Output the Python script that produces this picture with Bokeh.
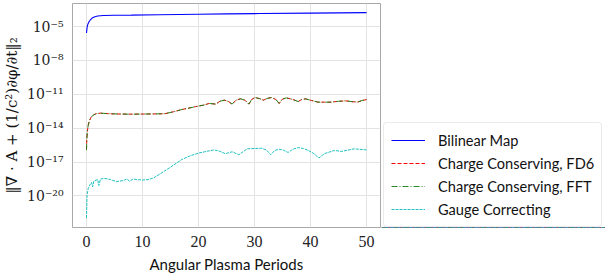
from bokeh.plotting import figure
from bokeh.layouts import row
from bokeh.models import (FixedTicker, CustomJSTickFormatter,
                          Legend, LegendItem, Range1d)
from bokeh.embed import file_html
from bokeh.resources import INLINE

# ---------------- data ----------------
bilinear_t = [0, 0.1, 0.2, 0.4, 0.7, 1.0, 1.5, 2.0, 3.0, 5.0, 8.0, 13, 20, 25, 31, 40, 45, 50]
bilinear_v = [2.69e-6, 7.94e-6, 1.41e-5, 2.40e-5, 3.98e-5, 5.62e-5, 7.41e-5, 8.51e-5,
              9.55e-5, 1.00e-4, 1.02e-4, 1.10e-4, 1.23e-4, 1.32e-4, 1.41e-4, 1.55e-4,
              1.62e-4, 1.70e-4]

cc_t = [0, 0.05, 0.15, 0.3, 0.5, 0.8, 1.2, 1.7, 2.5, 4, 6, 8, 10, 12, 14, 15.5, 17.2,
        18.5, 19.5, 21, 21.9, 23.1, 23.8, 24.6, 25.3, 26.0, 26.7, 27.5, 28.3, 29.0,
        29.5, 30.1, 30.9, 31.6, 32.3, 33.0, 33.8, 34.4, 35.0, 35.7, 36.8, 37.8, 38.4,
        39.1, 40.2, 41.3, 42.5, 43.7, 45.0, 46.3, 47.4, 48.4, 49.2, 50]
fd6_v = [1.23e-16, 1.0e-15, 5.0e-15, 1.74e-14, 4.47e-14, 8.91e-14, 1.45e-13, 1.91e-13,
         2.14e-13, 1.91e-13, 1.78e-13, 1.74e-13, 1.78e-13, 1.82e-13, 1.91e-13, 2.82e-13,
         4.68e-13, 6.31e-13, 8.13e-13, 1.12e-12, 1.55e-12, 1.35e-12, 2.40e-12, 3.02e-12,
         2.40e-12, 1.35e-12, 3.02e-12, 3.98e-12, 3.02e-12, 1.35e-12, 3.55e-12, 5.13e-12,
         4.17e-12, 3.02e-12, 4.37e-12, 5.13e-12, 3.55e-12, 1.55e-12, 3.80e-12, 4.79e-12,
         3.55e-12, 2.29e-12, 3.39e-12, 3.98e-12, 2.82e-12, 2.04e-12, 2.00e-12, 2.04e-12,
         2.40e-12, 2.63e-12, 2.24e-12, 2.04e-12, 2.82e-12, 3.39e-12]
fft_v = [1.23e-16, 1.0e-15, 5.0e-15, 1.74e-14, 4.47e-14, 8.91e-14, 1.45e-13, 1.91e-13,
         2.14e-13, 1.91e-13, 1.78e-13, 1.74e-13, 1.78e-13, 1.82e-13, 1.91e-13, 2.82e-13,
         4.68e-13, 6.31e-13, 8.13e-13, 1.12e-12, 1.55e-12, 1.35e-12, 2.40e-12, 3.02e-12,
         2.40e-12, 1.35e-12, 3.02e-12, 3.98e-12, 3.02e-12, 1.35e-12, 3.55e-12, 5.13e-12,
         4.17e-12, 3.02e-12, 4.37e-12, 5.13e-12, 3.55e-12, 1.55e-12, 3.80e-12, 4.79e-12,
         3.55e-12, 2.29e-12, 3.39e-12, 3.98e-12, 2.82e-12, 2.04e-12, 2.00e-12, 2.04e-12,
         2.40e-12, 2.63e-12, 2.24e-12, 2.04e-12, 2.82e-12, 3.39e-12]

gauge_t = [0, 0.05, 0.1, 0.3, 0.6, 0.9, 1.1, 1.3, 1.7, 2.0, 2.2, 2.5, 3.3, 4.3, 5.3, 6.5,
           7.2, 7.7, 8.3, 9.0, 10.0, 11, 12, 13.5, 15, 17, 18.5, 20, 21.5, 22.8, 23.8,
           24.8, 26.0, 27.2, 28.7, 30, 31.3, 32.1, 32.9, 33.6, 34.4, 35.2, 36.0, 36.9,
           37.8, 38.7, 39.6, 40.6, 41.5, 42.5, 44.3, 45.5, 47.8, 50]
gauge_v = [1.12e-22, 1.58e-21, 1.15e-20, 4.37e-20, 9.55e-20, 1.58e-19, 6.31e-20, 2.0e-19,
           2.51e-19, 2.82e-19, 8.32e-20, 3.16e-19, 3.55e-19, 2.82e-19, 1.86e-19, 2.24e-19,
           3.16e-19, 2.0e-19, 3.16e-19, 2.82e-19, 2.57e-19, 2.82e-19, 3.98e-19, 1.17e-18,
           3.55e-18, 1.66e-17, 3.55e-17, 6.17e-17, 8.91e-17, 1.20e-16, 8.91e-17, 5.50e-17,
           8.13e-17, 4.47e-17, 1.48e-16, 1.58e-16, 1.66e-16, 1.20e-16, 4.47e-17, 1.05e-16,
           1.38e-16, 1.12e-16, 7.08e-17, 1.41e-16, 1.91e-16, 1.58e-16, 1.07e-16, 5.62e-17,
           2.29e-17, 5.62e-17, 1.07e-16, 8.71e-17, 1.48e-16, 1.20e-16]

x_ticks = [0, 10, 20, 30, 40, 50]
y_ticks = [1e-20, 1e-17, 1e-14, 1e-11, 1e-8, 1e-5]
series_names = ["Bilinear Map", "Charge Conserving, FD6",
                "Charge Conserving, FFT", "Gauge Correcting"]
x_label = "Angular Plasma Periods"
y_label = "‖∇ · A + (1/c²)∂φ/∂t‖₂"

colors = ["#0000ff", "#ff0000", "#108010", "#20c0c0"]
dashes = ["solid", "4 2", "6 2 1 2", "3 1"]
widths = [1.1, 1.0, 0.9, 1.0]

H = 275

# ---------------- main figure ----------------
p = figure(width=381, height=H, y_axis_type="log", output_backend="svg",
           toolbar_location=None,
           x_range=Range1d(-2.5, 52.5), y_range=Range1d(1.6e-23, 1.1e-3),
           min_border_left=69, min_border_right=1, min_border_top=3,
           min_border_bottom=42)
p.background_fill_color = "white"
p.border_fill_color = "white"
p.outline_line_color = "#a8a8a8"
p.outline_line_width = 1

p.xaxis.ticker = FixedTicker(ticks=x_ticks)
p.yaxis.ticker = FixedTicker(ticks=y_ticks)
p.yaxis.formatter = CustomJSTickFormatter(code="""
const e = Math.round(Math.log10(tick));
const sup = {"-":"\u207b","0":"\u2070","1":"\u00b9","2":"\u00b2","3":"\u00b3",
             "4":"\u2074","5":"\u2075","6":"\u2076","7":"\u2077","8":"\u2078","9":"\u2079"};
return "10" + String(e).split("").map(c => sup[c]).join("");
""")

for ax in (p.xaxis, p.yaxis):
    ax.axis_line_color = None
    ax.major_tick_line_color = None
    ax.minor_tick_line_color = None
    ax.major_label_text_color = "#222222"
    ax.axis_label_text_font_style = "normal"
    ax.axis_label_text_color = "#111111"

p.xaxis.major_label_text_font = "Liberation Serif"
p.xaxis.major_label_text_font_size = "16px"
p.yaxis.major_label_text_font = "DejaVu Serif"
p.yaxis.major_label_text_font_size = "14px"
p.xaxis.major_label_standoff = 2
p.yaxis.major_label_standoff = 3
p.xaxis.axis_label = x_label
p.xaxis.axis_label_text_font = "Lato"
p.xaxis.axis_label_text_font_size = "15px"
p.xaxis.axis_label_standoff = 5
p.yaxis.axis_label = y_label
p.yaxis.axis_label_text_font = "DejaVu Serif"
p.yaxis.axis_label_text_font_size = "15px"
p.yaxis.axis_label_standoff = 3

p.xgrid.grid_line_color = "#e3e3e3"
p.ygrid.grid_line_color = "#e3e3e3"

series = [(bilinear_t, bilinear_v), (cc_t, fd6_v), (cc_t, fft_v), (gauge_t, gauge_v)]
for (t, v), c, d, w in zip(series, colors, dashes, widths):
    p.line(t, v, line_color=c, line_width=w, line_dash=d)

# ---------------- legend panel ----------------
q = figure(width=224, height=H, output_backend="svg", toolbar_location=None,
           x_axis_location=None, y_axis_location=None,
           min_border_left=0, min_border_right=0, min_border_top=0,
           min_border_bottom=0, x_range=Range1d(0, 1), y_range=Range1d(0, 1))
q.outline_line_color = None
q.xgrid.visible = False
q.ygrid.visible = False
q.background_fill_color = "white"
q.border_fill_color = "white"

# legend-key renderers: the same series, lying outside this panel's (0..1) ranges
items = []
for (t, v), name, c, d, w in zip(series, series_names, colors, dashes, widths):
    r = q.line(t, v, line_color=c, line_width=w, line_dash=d)
    items.append(LegendItem(label=name, renderers=[r]))

legend = Legend(items=items, location=(2, 0))
legend.label_text_font = "Lato"
legend.label_text_font_size = "14.6px"
legend.label_text_color = "#111111"
legend.border_line_color = "#d8d8d8"
legend.border_line_width = 1
legend.background_fill_color = "white"
legend.glyph_width = 34
legend.glyph_height = 20
legend.label_height = 20
legend.label_standoff = 13
legend.spacing = 3
legend.padding = 7
legend.margin = 0
if "border_radius" in Legend.properties():
    legend.border_radius = 4
q.add_layout(legend, "center")

layout = row(p, q)
open("out.html", "w").write(file_html(layout, INLINE))
